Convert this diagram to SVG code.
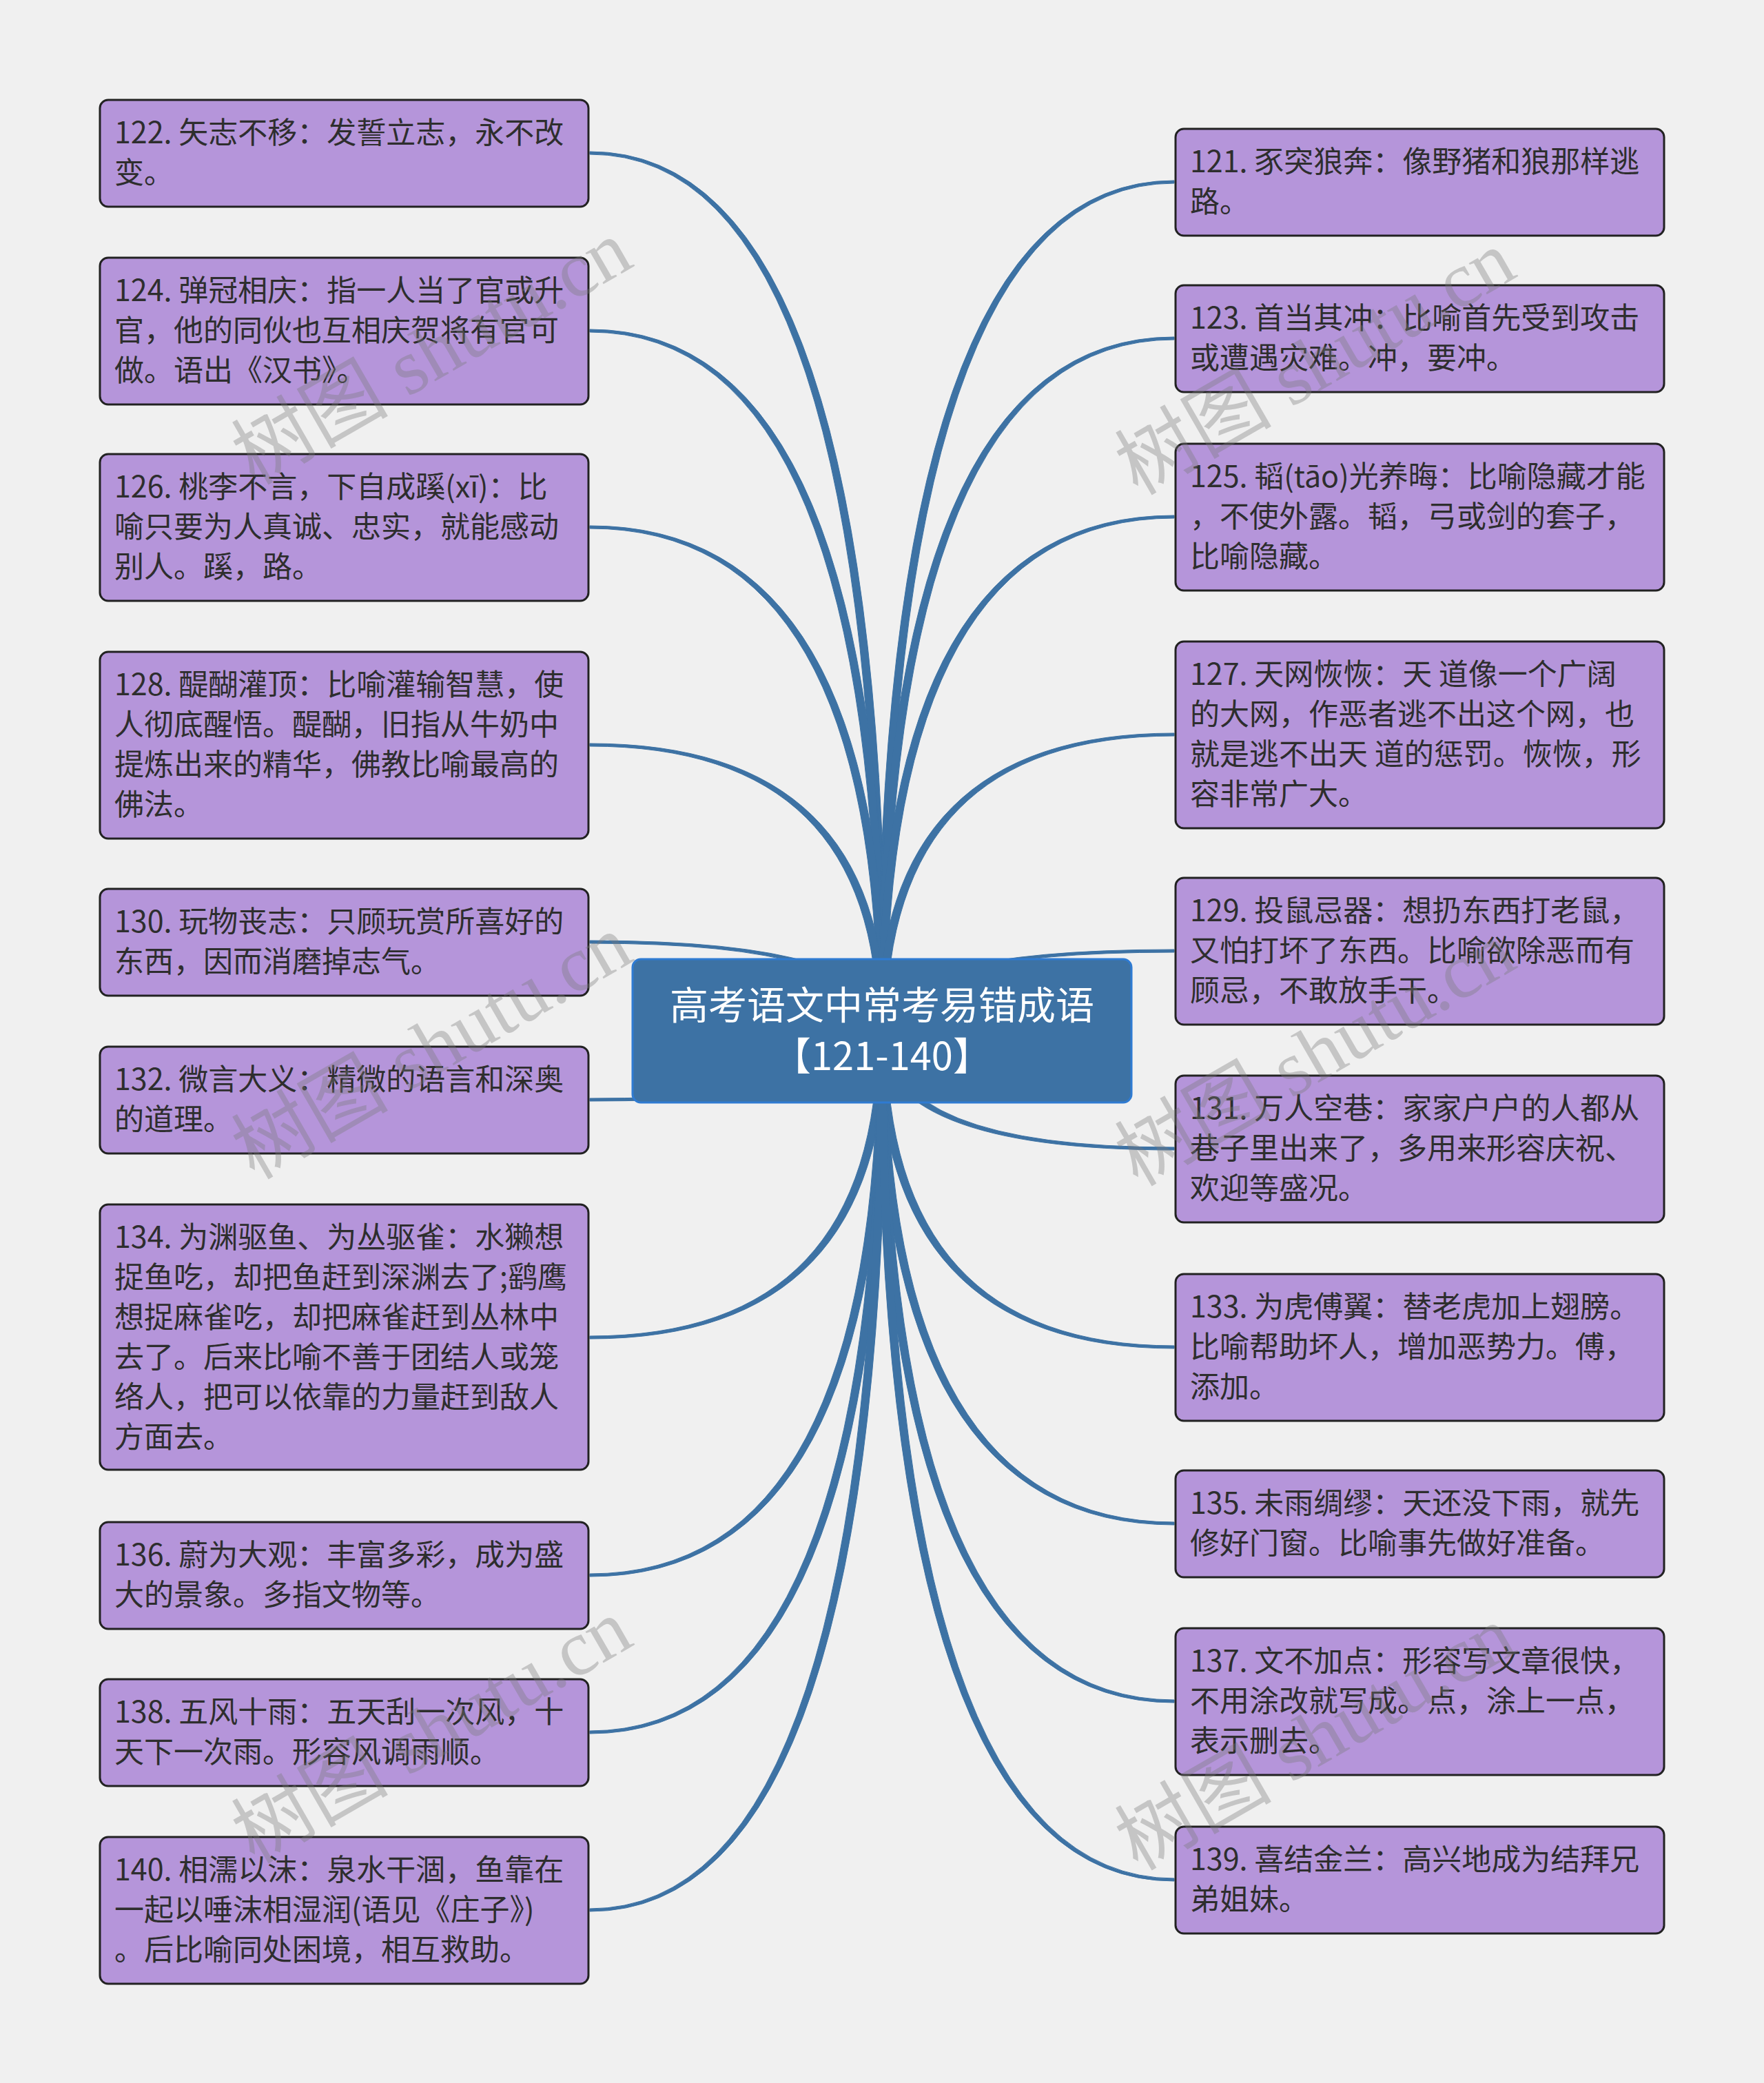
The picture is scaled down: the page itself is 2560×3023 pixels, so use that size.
<svg xmlns="http://www.w3.org/2000/svg" width="2560" height="3023" viewBox="0 0 2560 3023">
<style>
.bg{fill:#f0f0f0}
.leaf rect{fill:#b595da;stroke:#222;stroke-width:3}
.leaf text{font-family:"Noto Sans CJK SC","Noto Sans",sans-serif;font-size:43px;fill:#2e2e2e}
.root rect{fill:#3d72a4;stroke:#2f7bd2;stroke-width:3}
.root text{font-family:"Noto Sans CJK SC","Noto Sans",sans-serif;font-size:56px;fill:#ffffff;text-anchor:middle}
.conn path{fill:#3d72a4;stroke:#3d72a4;stroke-width:1}
.wm{font-family:"Liberation Serif","Noto Sans CJK SC",serif;font-size:114px;fill:#7a7a7a;opacity:0.36;text-anchor:middle}
</style>
<rect class="bg" x="0" y="0" width="2560" height="3023"/>
<g id="connectors" class="conn">
<path d="M1286,1496 Q1286,220 856,220 L856,224 Q1274,224 1274,1496 Z"/>
<path d="M1286,1496 Q1286,478 856,478 L856,482 Q1274,482 1274,1496 Z"/>
<path d="M1286,1496 Q1286,763 856,763 L856,767 Q1274,767 1274,1496 Z"/>
<path d="M1286,1496 Q1286,1079 856,1079 L856,1083 Q1274,1083 1274,1496 Z"/>
<path d="M1286,1496 Q1286,1365 856,1365 L856,1369 Q1274,1369 1274,1496 Z"/>
<path d="M1286,1496 Q1286,1598 856,1598 L856,1594 Q1274,1594 1274,1496 Z"/>
<path d="M1286,1496 Q1286,1943 856,1943 L856,1939 Q1274,1939 1274,1496 Z"/>
<path d="M1286,1496 Q1286,2288 856,2288 L856,2284 Q1274,2284 1274,1496 Z"/>
<path d="M1286,1496 Q1286,2516 856,2516 L856,2512 Q1274,2512 1274,1496 Z"/>
<path d="M1286,1496 Q1286,2774 856,2774 L856,2770 Q1274,2770 1274,1496 Z"/>
<path d="M1274,1496 Q1274,262 1704,262 L1704,266 Q1286,266 1286,1496 Z"/>
<path d="M1274,1496 Q1274,489 1704,489 L1704,493 Q1286,493 1286,1496 Z"/>
<path d="M1274,1496 Q1274,748 1704,748 L1704,752 Q1286,752 1286,1496 Z"/>
<path d="M1274,1496 Q1274,1064 1704,1064 L1704,1068 Q1286,1068 1286,1496 Z"/>
<path d="M1274,1496 Q1274,1378 1704,1378 L1704,1382 Q1286,1382 1286,1496 Z"/>
<path d="M1274,1496 Q1274,1669 1704,1669 L1704,1665 Q1286,1665 1286,1496 Z"/>
<path d="M1274,1496 Q1274,1957 1704,1957 L1704,1953 Q1286,1953 1286,1496 Z"/>
<path d="M1274,1496 Q1274,2213 1704,2213 L1704,2209 Q1286,2209 1286,1496 Z"/>
<path d="M1274,1496 Q1274,2471 1704,2471 L1704,2467 Q1286,2467 1286,1496 Z"/>
<path d="M1274,1496 Q1274,2730 1704,2730 L1704,2726 Q1286,2726 1286,1496 Z"/>
</g>
<g id="root" class="root">
<rect x="918" y="1392" width="724" height="208" rx="12"/>
<text x="1280" y="1479">高考语文中常考易错成语</text>
<text x="1280" y="1553">【121-140】</text>
</g>
<g id="n122" class="leaf"><rect x="145" y="145" width="709" height="155" rx="12"/>
<text x="166" y="208">122. 矢志不移：发誓立志，永不改</text><text x="166" y="266">变。</text></g>
<g id="n124" class="leaf"><rect x="145" y="374" width="709" height="213" rx="12"/>
<text x="166" y="437">124. 弹冠相庆：指一人当了官或升</text><text x="166" y="495">官，他的同伙也互相庆贺将有官可</text><text x="166" y="553">做。语出《汉书》。</text></g>
<g id="n126" class="leaf"><rect x="145" y="659" width="709" height="213" rx="12"/>
<text x="166" y="722">126. 桃李不言，下自成蹊(xī)：比</text><text x="166" y="780">喻只要为人真诚、忠实，就能感动</text><text x="166" y="838">别人。蹊，路。</text></g>
<g id="n128" class="leaf"><rect x="145" y="946" width="709" height="271" rx="12"/>
<text x="166" y="1009">128. 醍醐灌顶：比喻灌输智慧，使</text><text x="166" y="1067">人彻底醒悟。醍醐，旧指从牛奶中</text><text x="166" y="1125">提炼出来的精华，佛教比喻最高的</text><text x="166" y="1183">佛法。</text></g>
<g id="n130" class="leaf"><rect x="145" y="1290" width="709" height="155" rx="12"/>
<text x="166" y="1353">130. 玩物丧志：只顾玩赏所喜好的</text><text x="166" y="1411">东西，因而消磨掉志气。</text></g>
<g id="n132" class="leaf"><rect x="145" y="1519" width="709" height="155" rx="12"/>
<text x="166" y="1582">132. 微言大义：精微的语言和深奥</text><text x="166" y="1640">的道理。</text></g>
<g id="n134" class="leaf"><rect x="145" y="1748" width="709" height="385" rx="12"/>
<text x="166" y="1811">134. 为渊驱鱼、为丛驱雀：水獭想</text><text x="166" y="1869">捉鱼吃，却把鱼赶到深渊去了;鹞鹰</text><text x="166" y="1927">想捉麻雀吃，却把麻雀赶到丛林中</text><text x="166" y="1985">去了。后来比喻不善于团结人或笼</text><text x="166" y="2043">络人，把可以依靠的力量赶到敌人</text><text x="166" y="2101">方面去。</text></g>
<g id="n136" class="leaf"><rect x="145" y="2209" width="709" height="155" rx="12"/>
<text x="166" y="2272">136. 蔚为大观：丰富多彩，成为盛</text><text x="166" y="2330">大的景象。多指文物等。</text></g>
<g id="n138" class="leaf"><rect x="145" y="2437" width="709" height="155" rx="12"/>
<text x="166" y="2500">138. 五风十雨：五天刮一次风，十</text><text x="166" y="2558">天下一次雨。形容风调雨顺。</text></g>
<g id="n140" class="leaf"><rect x="145" y="2666" width="709" height="213" rx="12"/>
<text x="166" y="2729">140. 相濡以沫：泉水干涸，鱼靠在</text><text x="166" y="2787">一起以唾沫相湿润(语见《庄子》)</text><text x="166" y="2845">。后比喻同处困境，相互救助。</text></g>
<g id="n121" class="leaf"><rect x="1706" y="187" width="709" height="155" rx="12"/>
<text x="1727" y="250">121. 豕突狼奔：像野猪和狼那样逃</text><text x="1727" y="308">路。</text></g>
<g id="n123" class="leaf"><rect x="1706" y="414" width="709" height="155" rx="12"/>
<text x="1727" y="477">123. 首当其冲：比喻首先受到攻击</text><text x="1727" y="535">或遭遇灾难。冲，要冲。</text></g>
<g id="n125" class="leaf"><rect x="1706" y="644" width="709" height="213" rx="12"/>
<text x="1727" y="707">125. 韬(tāo)光养晦：比喻隐藏才能</text><text x="1727" y="765">，不使外露。韬，弓或剑的套子，</text><text x="1727" y="823">比喻隐藏。</text></g>
<g id="n127" class="leaf"><rect x="1706" y="931" width="709" height="271" rx="12"/>
<text x="1727" y="994">127. 天网恢恢：天 道像一个广阔</text><text x="1727" y="1052">的大网，作恶者逃不出这个网，也</text><text x="1727" y="1110">就是逃不出天 道的惩罚。恢恢，形</text><text x="1727" y="1168">容非常广大。</text></g>
<g id="n129" class="leaf"><rect x="1706" y="1274" width="709" height="213" rx="12"/>
<text x="1727" y="1337">129. 投鼠忌器：想扔东西打老鼠，</text><text x="1727" y="1395">又怕打坏了东西。比喻欲除恶而有</text><text x="1727" y="1453">顾忌，不敢放手干。</text></g>
<g id="n131" class="leaf"><rect x="1706" y="1561" width="709" height="213" rx="12"/>
<text x="1727" y="1624">131. 万人空巷：家家户户的人都从</text><text x="1727" y="1682">巷子里出来了，多用来形容庆祝、</text><text x="1727" y="1740">欢迎等盛况。</text></g>
<g id="n133" class="leaf"><rect x="1706" y="1849" width="709" height="213" rx="12"/>
<text x="1727" y="1912">133. 为虎傅翼：替老虎加上翅膀。</text><text x="1727" y="1970">比喻帮助坏人，增加恶势力。傅，</text><text x="1727" y="2028">添加。</text></g>
<g id="n135" class="leaf"><rect x="1706" y="2134" width="709" height="155" rx="12"/>
<text x="1727" y="2197">135. 未雨绸缪：天还没下雨，就先</text><text x="1727" y="2255">修好门窗。比喻事先做好准备。</text></g>
<g id="n137" class="leaf"><rect x="1706" y="2363" width="709" height="213" rx="12"/>
<text x="1727" y="2426">137. 文不加点：形容写文章很快，</text><text x="1727" y="2484">不用涂改就写成。点，涂上一点，</text><text x="1727" y="2542">表示删去。</text></g>
<g id="n139" class="leaf"><rect x="1706" y="2651" width="709" height="155" rx="12"/>
<text x="1727" y="2714">139. 喜结金兰：高兴地成为结拜兄</text><text x="1727" y="2772">弟姐妹。</text></g>
<g id="watermarks">
<text class="wm" transform="translate(646,545) rotate(-30)">树图 shutu.cn</text>
<text class="wm" transform="translate(646,1553) rotate(-30)">树图 shutu.cn</text>
<text class="wm" transform="translate(646,2546) rotate(-30)">树图 shutu.cn</text>
<text class="wm" transform="translate(1928,560) rotate(-30)">树图 shutu.cn</text>
<text class="wm" transform="translate(1928,1563) rotate(-30)">树图 shutu.cn</text>
<text class="wm" transform="translate(1928,2556) rotate(-30)">树图 shutu.cn</text>
</g>
</svg>
